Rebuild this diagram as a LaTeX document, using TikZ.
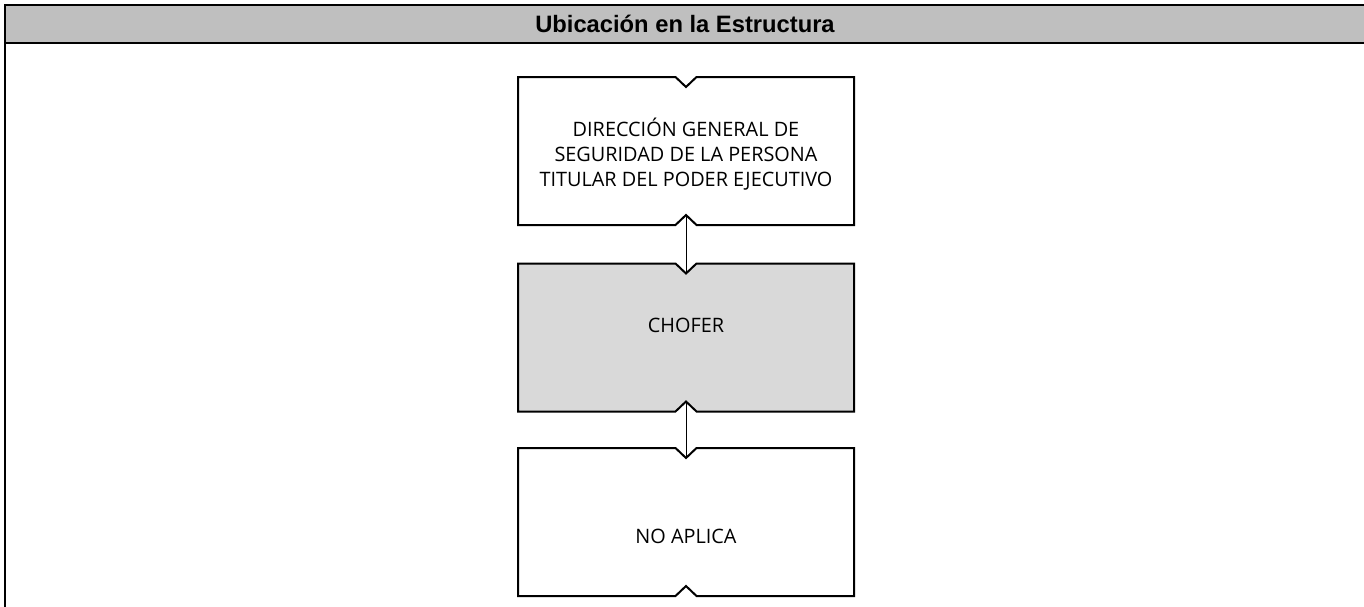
\documentclass[tikz,border=0pt]{standalone}
\usepackage{fontspec}
\setmainfont{Open Sans}
\newfontfamily\headfont{Liberation Sans}
\usetikzlibrary{calc}

\definecolor{headgray}{HTML}{BFBFBF}
\definecolor{postgray}{HTML}{D9D9D9}

\tikzset{
  unitbox/.style={minimum width=252pt, minimum height=111pt, inner sep=0pt, outer sep=0pt},
  unittext/.style={align=center, inner sep=0pt, font=\fontsize{14.9}{18.75}\selectfont},
  link/.style={line width=0.6pt},
}

% outline of a box with a notch on top and bottom
\newcommand\notchedbox[2][white]{%
  \path[draw=black, line width=1.5pt, fill=#1, line join=miter]
    (#2.north west) -- ($(#2.north)+(-10.5,0)$) -- ($(#2.north)+(0,10)$)
    -- ($(#2.north)+(10.5,0)$) -- (#2.north east) -- (#2.south east)
    -- ($(#2.south)+(10.5,0)$) -- ($(#2.south)+(0,-10)$)
    -- ($(#2.south)+(-10.5,0)$) -- (#2.south west) -- cycle;}

\begin{document}
\begin{tikzpicture}[x=0.75pt, y=-0.75pt]
  \useasboundingbox (0,0) rectangle (1364,607);

  % header
  \fill[headgray] (5,5) rectangle (1364,43);
  \draw[line width=1.5pt] (4,5) -- (1364,5);
  \draw[line width=1.5pt] (5,43) -- (1364,43);
  \draw[line width=1.5pt] (5,4) -- (5,607);
  \node (head) at (685,24) {\headfont\bfseries\fontsize{17.8}{20}\selectfont Ubicación en la Estructura};

  \node[unitbox] (dir) at (686,151) {};
  \node[unitbox] (chofer) at (686,337.5) {};
  \node[unitbox] (noaplica) at (686,522) {};

  \notchedbox{dir}
  \notchedbox[postgray]{chofer}
  \notchedbox{noaplica}

  \node[unittext] (dirtxt) at (686,154) {DIRECCIÓN GENERAL DE\\SEGURIDAD DE LA PERSONA\\TITULAR DEL PODER EJECUTIVO};
  \node[unittext] (chofertxt) at (686,325) {CHOFER};
  \node[unittext] (noaplicatxt) at (686,536) {NO APLICA};

  \path[link] ([yshift=7.5pt]dir.south) edge ([yshift=-7.5pt]chofer.north);
  \path[link] ([yshift=7.5pt]chofer.south) edge ([yshift=-7.5pt]noaplica.north);
\end{tikzpicture}
\end{document}
